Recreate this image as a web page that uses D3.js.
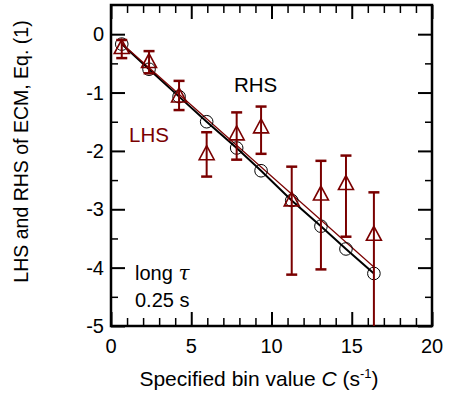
<!DOCTYPE html>
<html>
<head>
<meta charset="utf-8">
<script src="https://cdn.jsdelivr.net/npm/d3@7"></script>
<style>
  body { margin: 0; background: #fff; }
  text { font-family: Arial, "Liberation Sans", sans-serif; }
</style>
</head>
<body>
<div id="chart"></div>
<script>
// values
const binC = [0.67, 2.37, 4.24, 5.96, 7.83, 9.35, 11.26, 13.08, 14.64, 16.38];
const rhs = [-0.17, -0.60, -1.07, -1.50, -1.95, -2.34, -2.85, -3.29, -3.68, -4.10];
const lhs = [-0.22, -0.46, -1.05, -2.04, -1.70, -1.58, -2.83, -2.73, -2.55, -3.42];
const lhsHigh = [-0.10, -0.29, -0.80, -1.68, -1.34, -1.24, -2.27, -2.17, -2.08, -2.71];
const lhsLow = [-0.41, -0.67, -1.30, -2.44, -2.15, -2.05, -4.12, -4.03, -3.47, -5.5];
const lhsFitC = [0.67, 16.38];
const lhsFit = [-0.16, -3.99];
const xTicks = [0, 5, 10, 15, 20];
const yTicks = [0, -1, -2, -3, -4, -5];

const red = "#7a0000";
const W = 451, H = 394;
const m = {left: 111, right: 19, top: 5, bottom: 68};

const svg = d3.select("#chart").append("svg")
    .attr("width", W)
    .attr("height", H);

const x = d3.scaleLinear().domain([0, 20]).range([m.left, W - m.right]);
const y = d3.scaleLinear().domain([-5, 0.5]).range([H - m.bottom, m.top]);

svg.append("clipPath").attr("id", "clip")
    .append("rect")
    .attr("x", x(0)).attr("y", y(0.5))
    .attr("width", x(20) - x(0)).attr("height", y(-5) - y(0.5));

// ticks, inward on all four sides
function tickAxis(axisFn, scale, values, size, pos, width) {
    svg.append("g")
        .attr("transform", pos)
        .call(axisFn(scale).tickValues(values).tickSize(size).tickFormat(""))
        .call(g => g.select(".domain").remove())
        .call(g => g.selectAll("line").attr("stroke", "#000").attr("stroke-width", width));
}
const xMinor = d3.range(0, 21, 1).filter(v => v % 5 != 0);
const yMinor = d3.range(-4.5, 0.5, 1);
tickAxis(d3.axisTop, x, xTicks, 14, `translate(0,${y(-5)})`, 2);
tickAxis(d3.axisTop, x, xMinor, 8, `translate(0,${y(-5)})`, 1.5);
tickAxis(d3.axisBottom, x, xTicks, 14, `translate(0,${y(0.5)})`, 2);
tickAxis(d3.axisBottom, x, xMinor, 8, `translate(0,${y(0.5)})`, 1.5);
tickAxis(d3.axisRight, y, yTicks, 14, `translate(${x(0)},0)`, 2);
tickAxis(d3.axisRight, y, yMinor, 7, `translate(${x(0)},0)`, 1.5);
tickAxis(d3.axisLeft, y, yTicks, 14, `translate(${x(20)},0)`, 2);
tickAxis(d3.axisLeft, y, yMinor, 7, `translate(${x(20)},0)`, 1.5);

// tick labels
svg.append("g").selectAll("text")
    .data(xTicks).join("text")
    .attr("x", d => x(d)).attr("y", y(-5) + 27)
    .attr("text-anchor", "middle")
    .attr("font-size", 20)
    .text(d => d);

svg.append("g").selectAll("text")
    .data(yTicks).join("text")
    .attr("x", x(0) - 7).attr("y", d => y(d) + 7)
    .attr("text-anchor", "end")
    .attr("font-size", 20)
    .text(d => d);

// frame
svg.append("rect")
    .attr("x", x(0)).attr("y", y(0.5))
    .attr("width", x(20) - x(0)).attr("height", y(-5) - y(0.5))
    .attr("fill", "none").attr("stroke", "#000").attr("stroke-width", 2.5);

const plot = svg.append("g").attr("clip-path", "url(#clip)");

// RHS line + circles
const line = d3.line().x(d => x(d[0])).y(d => y(d[1]));
plot.append("path")
    .attr("d", line(d3.zip(binC, rhs)))
    .attr("fill", "none").attr("stroke", "#000").attr("stroke-width", 2);

plot.append("path")
    .attr("d", line(d3.zip(lhsFitC, lhsFit)))
    .attr("fill", "none").attr("stroke", red).attr("stroke-width", 1.2);

plot.append("g").selectAll("circle")
    .data(d3.zip(binC, rhs)).join("circle")
    .attr("cx", d => x(d[0])).attr("cy", d => y(d[1]))
    .attr("r", 6.3)
    .attr("fill", "none").attr("stroke", "#000").attr("stroke-width", 1);

// LHS error bars
const eb = plot.append("g").attr("stroke", red);
binC.forEach((c, i) => {
    eb.append("line")
        .attr("x1", x(c)).attr("x2", x(c))
        .attr("y1", y(lhsHigh[i])).attr("y2", y(lhsLow[i]))
        .attr("stroke-width", 2);
    [lhsHigh[i], lhsLow[i]].forEach(v => {
        eb.append("line")
            .attr("x1", x(c) - 5.5).attr("x2", x(c) + 5.5)
            .attr("y1", y(v)).attr("y2", y(v))
            .attr("stroke-width", 2.5);
    });
});

// LHS triangles
plot.append("g").selectAll("path")
    .data(d3.zip(binC, lhs)).join("path")
    .attr("transform", d => `translate(${x(d[0])},${y(d[1])})`)
    .attr("d", "M0,-7.5L7.5,6.5L-7.5,6.5Z")
    .attr("fill", "none").attr("stroke", red).attr("stroke-width", 1.6);

// annotations
svg.append("text").attr("x", 234).attr("y", 92)
    .attr("font-size", 20.5).attr("fill", "#000").text("RHS");
svg.append("text").attr("x", 129).attr("y", 142)
    .attr("font-size", 20.5).attr("fill", red).text("LHS");

const note = svg.append("text").attr("font-size", 20).attr("fill", "#000");
note.append("tspan").attr("x", 135).attr("y", 280).text("long ");
note.append("tspan")
    .style("font-family", "'DejaVu Serif', 'Liberation Serif', serif")
    .attr("font-style", "italic").text("τ");
note.append("tspan").attr("x", 135).attr("y", 307).text("0.25 s");

// axis titles
const xl = svg.append("text")
    .attr("x", 259).attr("y", 386)
    .attr("text-anchor", "middle")
    .attr("font-size", 21);
xl.append("tspan").text("Specified bin value ");
xl.append("tspan").attr("font-style", "italic").text("C");
xl.append("tspan").text(" (s");
xl.append("tspan").attr("font-size", 13).attr("dy", -8).text("-1");
xl.append("tspan").attr("dy", 8).text(")");

svg.append("text")
    .attr("transform", `translate(28,${(y(0.5) + y(-5)) / 2 - 14}) rotate(-90)`)
    .attr("text-anchor", "middle")
    .attr("font-size", 19.5)
    .text("LHS and RHS of ECM, Eq. (1)");
</script>
</body>
</html>
